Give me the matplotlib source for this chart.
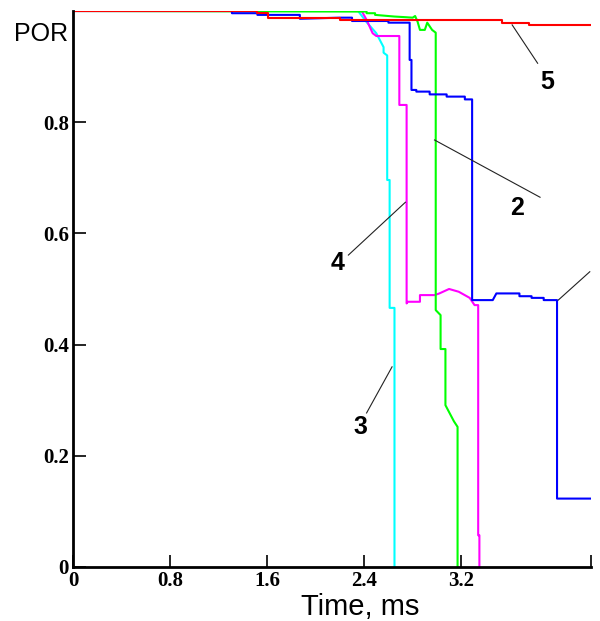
import matplotlib
matplotlib.use("Agg")
import matplotlib.pyplot as plt

# curves (time in ms, POR)
t1 = [0, 1.31, 1.31, 1.52, 1.52, 1.87, 1.87, 2.2, 2.3, 2.3, 2.6, 2.6, 2.775, 2.775, 2.79, 2.79, 2.83, 2.83,
      2.94, 2.94, 3.08, 3.08, 3.23, 3.23, 3.29, 3.29, 3.46, 3.49, 3.68, 3.68, 3.78, 3.78, 3.88, 3.88, 3.99, 3.99, 4.27]
p1 = [1.0, 1.0, 0.996, 0.996, 0.993, 0.993, 0.986, 0.988, 0.988, 0.982, 0.982, 0.979, 0.979, 0.912, 0.912, 0.858,
      0.858, 0.855, 0.855, 0.850, 0.850, 0.846, 0.846, 0.841, 0.841, 0.480, 0.480, 0.492, 0.492, 0.487, 0.487,
      0.484, 0.484, 0.480, 0.480, 0.123, 0.123]

t2 = [0, 2.34, 2.42, 2.42, 2.49, 2.49, 2.65, 2.73, 2.80, 2.82, 2.84, 2.86, 2.90, 2.92, 2.96, 2.99, 2.99, 3.03,
      3.03, 3.07, 3.07, 3.14, 3.17, 3.17]
p2 = [1.0, 0.999, 0.999, 0.996, 0.996, 0.993, 0.990, 0.989, 0.988, 0.991, 0.981, 0.966, 0.966, 0.979, 0.966,
      0.961, 0.462, 0.453, 0.392, 0.392, 0.291, 0.262, 0.252, 0.0]

t3 = [0, 2.35, 2.42, 2.50, 2.56, 2.56, 2.59, 2.59, 2.61, 2.61, 2.65, 2.65]
p3 = [1.0, 1.0, 0.98, 0.96, 0.935, 0.925, 0.92, 0.696, 0.696, 0.466, 0.466, 0.0]

t4 = [0, 2.38, 2.42, 2.47, 2.50, 2.69, 2.69, 2.75, 2.75, 2.76, 2.86, 2.86, 2.98, 3.02, 3.10, 3.18, 3.27, 3.31,
      3.34, 3.34, 3.35, 3.35]
p4 = [1.0, 1.0, 0.984, 0.96, 0.955, 0.955, 0.831, 0.831, 0.474, 0.477, 0.477, 0.489, 0.489, 0.492, 0.500,
      0.495, 0.484, 0.471, 0.471, 0.057, 0.057, 0.0]

t5 = [0, 1.52, 1.52, 1.61, 1.61, 2.2, 2.2, 3.54, 3.54, 3.76, 3.76, 4.27]
p5 = [1.0, 1.0, 0.996, 0.996, 0.988, 0.988, 0.984, 0.984, 0.978, 0.978, 0.975, 0.975]

xticks = [0, 0.8, 1.6, 2.4, 3.2]
yticks = [0, 0.2, 0.4, 0.6, 0.8]

fig = plt.figure(figsize=(6, 6.21), dpi=100)
ax = fig.add_axes([0.1217, 0.087, 0.8633, 0.8953])

ax.plot(t3, p3, color="#00ffff", lw=1.5)
ax.plot(t4, p4, color="#ff00ff", lw=1.5)
ax.plot(t2, p2, color="#00ff00", lw=1.5)
ax.plot(t1, p1, color="#0000ff", lw=1.5)
ax.plot(t5, p5, color="#ff0000", lw=1.5)

ax.set_xlim(0, 4.27)
ax.set_ylim(0, 1.0)
for s in ["top", "right"]:
    ax.spines[s].set_visible(False)
for s in ["left", "bottom"]:
    ax.spines[s].set_linewidth(2)

tf = dict(family="Liberation Serif", weight="bold", size=15)
ax.set_xticks(xticks + [4.27])
ax.set_xticklabels([str(v) for v in xticks] + [""], fontdict=tf)
ax.set_yticks(yticks)
ax.set_yticklabels(["0", "0.2", "0.4", "0.6", "0.8"], fontdict=tf)
ax.tick_params(direction="in", length=9, width=1.2, pad=3)

ax.text(-0.01, 0.959, "POR", transform=ax.get_yaxis_transform(), ha="right", va="center",
        family="Liberation Sans", size=18)
fig.text(360 / 600, 1 - 607 / 621, "Time, ms", ha="center", va="center",
         family="Liberation Sans", size=21)

# leader lines and curve numbers
lab = dict(family="Liberation Sans", weight="bold", size=18, ha="center", va="center")
lines = [((3.62, 0.975), (3.83, 0.906), (3.91, 0.872), "5"),
         ((2.98, 0.768), (3.85, 0.665), (3.66, 0.646), "2"),
         ((2.74, 0.656), (2.27, 0.561), (2.18, 0.547), "4"),
         ((2.63, 0.36), (2.42, 0.277), (2.37, 0.252), "3"),
         ((4.0, 0.48), (4.26, 0.531), (4.40, 0.56), "1")]
for a, b, c, s in lines:
    ax.plot([a[0], b[0]], [a[1], b[1]], color="#222222", lw=0.8, clip_on=False)
    ax.text(c[0], c[1], s, clip_on=False, **lab)

fig.savefig("out.png")
